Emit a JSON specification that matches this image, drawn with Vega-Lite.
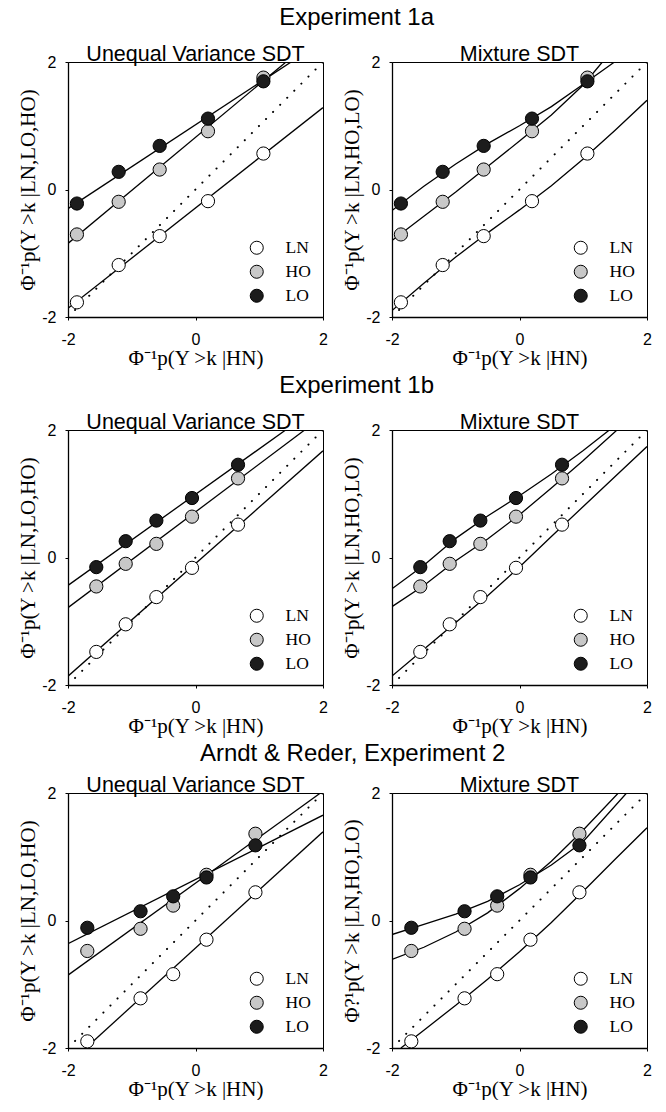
{
  "$schema": "https://vega.github.io/schema/vega-lite/v6.json",
  "padding": {"left": 17, "top": 6, "right": 0, "bottom": 0},
  "background": "white",
  "datasets": {
    "diag": [{"x": -2, "y": -2}, {"x": 2, "y": 2}],
    "points": [
      {"exp": "1a", "cond": "LN", "x": -1.86, "y": -1.77},
      {"exp": "1a", "cond": "LN", "x": -1.205, "y": -1.185},
      {"exp": "1a", "cond": "LN", "x": -0.562, "y": -0.731},
      {"exp": "1a", "cond": "LN", "x": 0.196, "y": -0.183},
      {"exp": "1a", "cond": "LN", "x": 1.065, "y": 0.564},
      {"exp": "1a", "cond": "HO", "x": -1.86, "y": -0.705},
      {"exp": "1a", "cond": "HO", "x": -1.205, "y": -0.193},
      {"exp": "1a", "cond": "HO", "x": -0.562, "y": 0.313},
      {"exp": "1a", "cond": "HO", "x": 0.196, "y": 0.914},
      {"exp": "1a", "cond": "HO", "x": 1.065, "y": 1.755},
      {"exp": "1a", "cond": "LO", "x": -1.86, "y": -0.22},
      {"exp": "1a", "cond": "LO", "x": -1.205, "y": 0.277},
      {"exp": "1a", "cond": "LO", "x": -0.562, "y": 0.684},
      {"exp": "1a", "cond": "LO", "x": 0.196, "y": 1.112},
      {"exp": "1a", "cond": "LO", "x": 1.065, "y": 1.697},
      {"exp": "1b", "cond": "LN", "x": -1.556, "y": -1.481},
      {"exp": "1b", "cond": "LN", "x": -1.095, "y": -1.048},
      {"exp": "1b", "cond": "LN", "x": -0.614, "y": -0.621},
      {"exp": "1b", "cond": "LN", "x": -0.055, "y": -0.162},
      {"exp": "1b", "cond": "LN", "x": 0.667, "y": 0.516},
      {"exp": "1b", "cond": "HO", "x": -1.556, "y": -0.454},
      {"exp": "1b", "cond": "HO", "x": -1.095, "y": -0.099},
      {"exp": "1b", "cond": "HO", "x": -0.614, "y": 0.214},
      {"exp": "1b", "cond": "HO", "x": -0.055, "y": 0.641},
      {"exp": "1b", "cond": "HO", "x": 0.667, "y": 1.241},
      {"exp": "1b", "cond": "LO", "x": -1.556, "y": -0.151},
      {"exp": "1b", "cond": "LO", "x": -1.095, "y": 0.256},
      {"exp": "1b", "cond": "LO", "x": -0.614, "y": 0.579},
      {"exp": "1b", "cond": "LO", "x": -0.055, "y": 0.933},
      {"exp": "1b", "cond": "LO", "x": 0.667, "y": 1.455},
      {"exp": "AR", "cond": "LN", "x": -1.697, "y": -1.896},
      {"exp": "AR", "cond": "LN", "x": -0.862, "y": -1.221},
      {"exp": "AR", "cond": "LN", "x": -0.35, "y": -0.842},
      {"exp": "AR", "cond": "LN", "x": 0.172, "y": -0.301},
      {"exp": "AR", "cond": "LN", "x": 0.94, "y": 0.442},
      {"exp": "AR", "cond": "HO", "x": -1.697, "y": -0.478},
      {"exp": "AR", "cond": "HO", "x": -0.862, "y": -0.13},
      {"exp": "AR", "cond": "HO", "x": -0.35, "y": 0.234},
      {"exp": "AR", "cond": "HO", "x": 0.172, "y": 0.717},
      {"exp": "AR", "cond": "HO", "x": 0.94, "y": 1.361},
      {"exp": "AR", "cond": "LO", "x": -1.697, "y": -0.114},
      {"exp": "AR", "cond": "LO", "x": -0.862, "y": 0.145},
      {"exp": "AR", "cond": "LO", "x": -0.35, "y": 0.379},
      {"exp": "AR", "cond": "LO", "x": 0.172, "y": 0.675},
      {"exp": "AR", "cond": "LO", "x": 0.94, "y": 1.179}
    ],
    "curves": [
      {"panel": "1a-UV", "cond": "LN", "x": -2, "y": -1.864},
      {"panel": "1a-UV", "cond": "LN", "x": 2, "y": 1.285},
      {"panel": "1a-UV", "cond": "HO", "x": -2, "y": -0.846},
      {"panel": "1a-UV", "cond": "HO", "x": 1.42, "y": 2},
      {"panel": "1a-UV", "cond": "LO", "x": -2, "y": -0.3},
      {"panel": "1a-UV", "cond": "LO", "x": 1.5, "y": 2},
      {"panel": "1a-MX", "cond": "LO", "x": -2, "y": -0.33},
      {"panel": "1a-MX", "cond": "LO", "x": -1.5, "y": 0.05},
      {"panel": "1a-MX", "cond": "LO", "x": -1, "y": 0.4},
      {"panel": "1a-MX", "cond": "LO", "x": -0.5, "y": 0.72},
      {"panel": "1a-MX", "cond": "LO", "x": 0, "y": 1.0},
      {"panel": "1a-MX", "cond": "LO", "x": 0.5, "y": 1.3},
      {"panel": "1a-MX", "cond": "LO", "x": 1, "y": 1.65},
      {"panel": "1a-MX", "cond": "LO", "x": 1.49, "y": 2},
      {"panel": "1a-MX", "cond": "HO", "x": -2, "y": -0.8},
      {"panel": "1a-MX", "cond": "HO", "x": -1.5, "y": -0.42},
      {"panel": "1a-MX", "cond": "HO", "x": -1, "y": -0.04},
      {"panel": "1a-MX", "cond": "HO", "x": -0.5, "y": 0.36},
      {"panel": "1a-MX", "cond": "HO", "x": 0, "y": 0.76},
      {"panel": "1a-MX", "cond": "HO", "x": 0.5, "y": 1.17},
      {"panel": "1a-MX", "cond": "HO", "x": 1, "y": 1.64},
      {"panel": "1a-MX", "cond": "HO", "x": 1.3, "y": 2},
      {"panel": "1a-MX", "cond": "LN", "x": -2, "y": -1.9},
      {"panel": "1a-MX", "cond": "LN", "x": -1.5, "y": -1.47},
      {"panel": "1a-MX", "cond": "LN", "x": -1, "y": -1.06},
      {"panel": "1a-MX", "cond": "LN", "x": -0.5, "y": -0.68},
      {"panel": "1a-MX", "cond": "LN", "x": 0, "y": -0.32},
      {"panel": "1a-MX", "cond": "LN", "x": 0.5, "y": 0.06},
      {"panel": "1a-MX", "cond": "LN", "x": 1, "y": 0.48},
      {"panel": "1a-MX", "cond": "LN", "x": 1.5, "y": 0.93},
      {"panel": "1a-MX", "cond": "LN", "x": 2, "y": 1.4},
      {"panel": "1b-UV", "cond": "LN", "x": -2, "y": -1.862},
      {"panel": "1b-UV", "cond": "LN", "x": 2, "y": 1.674},
      {"panel": "1b-UV", "cond": "HO", "x": -2, "y": -0.787},
      {"panel": "1b-UV", "cond": "HO", "x": 1.712, "y": 2},
      {"panel": "1b-UV", "cond": "LO", "x": -2, "y": -0.438},
      {"panel": "1b-UV", "cond": "LO", "x": 1.414, "y": 2},
      {"panel": "1b-MX", "cond": "LO", "x": -2, "y": -0.49},
      {"panel": "1b-MX", "cond": "LO", "x": -1.5, "y": -0.12},
      {"panel": "1b-MX", "cond": "LO", "x": -1, "y": 0.3},
      {"panel": "1b-MX", "cond": "LO", "x": -0.5, "y": 0.65},
      {"panel": "1b-MX", "cond": "LO", "x": 0, "y": 0.97},
      {"panel": "1b-MX", "cond": "LO", "x": 0.5, "y": 1.31},
      {"panel": "1b-MX", "cond": "LO", "x": 1, "y": 1.68},
      {"panel": "1b-MX", "cond": "LO", "x": 1.41, "y": 2},
      {"panel": "1b-MX", "cond": "HO", "x": -2, "y": -0.77},
      {"panel": "1b-MX", "cond": "HO", "x": -1.5, "y": -0.44},
      {"panel": "1b-MX", "cond": "HO", "x": -1, "y": -0.05},
      {"panel": "1b-MX", "cond": "HO", "x": -0.5, "y": 0.29},
      {"panel": "1b-MX", "cond": "HO", "x": 0, "y": 0.67},
      {"panel": "1b-MX", "cond": "HO", "x": 0.5, "y": 1.09},
      {"panel": "1b-MX", "cond": "HO", "x": 1, "y": 1.52},
      {"panel": "1b-MX", "cond": "HO", "x": 1.53, "y": 2},
      {"panel": "1b-MX", "cond": "LN", "x": -2, "y": -1.86},
      {"panel": "1b-MX", "cond": "LN", "x": -1.5, "y": -1.44},
      {"panel": "1b-MX", "cond": "LN", "x": -1, "y": -1.02},
      {"panel": "1b-MX", "cond": "LN", "x": -0.5, "y": -0.6},
      {"panel": "1b-MX", "cond": "LN", "x": 0, "y": -0.15},
      {"panel": "1b-MX", "cond": "LN", "x": 0.5, "y": 0.33},
      {"panel": "1b-MX", "cond": "LN", "x": 1, "y": 0.8},
      {"panel": "1b-MX", "cond": "LN", "x": 1.5, "y": 1.27},
      {"panel": "1b-MX", "cond": "LN", "x": 2, "y": 1.74},
      {"panel": "AR-UV", "cond": "LN", "x": -1.72, "y": -2},
      {"panel": "AR-UV", "cond": "LN", "x": 2, "y": 1.392},
      {"panel": "AR-UV", "cond": "HO", "x": -2, "y": -0.857},
      {"panel": "AR-UV", "cond": "HO", "x": 1.96, "y": 2},
      {"panel": "AR-UV", "cond": "LO", "x": -2, "y": -0.364},
      {"panel": "AR-UV", "cond": "LO", "x": 2, "y": 1.652},
      {"panel": "AR-MX", "cond": "LO", "x": -2, "y": -0.22},
      {"panel": "AR-MX", "cond": "LO", "x": -1.5, "y": -0.06},
      {"panel": "AR-MX", "cond": "LO", "x": -1, "y": 0.1},
      {"panel": "AR-MX", "cond": "LO", "x": -0.5, "y": 0.3},
      {"panel": "AR-MX", "cond": "LO", "x": 0, "y": 0.56},
      {"panel": "AR-MX", "cond": "LO", "x": 0.5, "y": 0.87},
      {"panel": "AR-MX", "cond": "LO", "x": 1, "y": 1.24},
      {"panel": "AR-MX", "cond": "LO", "x": 1.68, "y": 2},
      {"panel": "AR-MX", "cond": "HO", "x": -2, "y": -0.61},
      {"panel": "AR-MX", "cond": "HO", "x": -1.5, "y": -0.42},
      {"panel": "AR-MX", "cond": "HO", "x": -1, "y": -0.18},
      {"panel": "AR-MX", "cond": "HO", "x": -0.5, "y": 0.12},
      {"panel": "AR-MX", "cond": "HO", "x": 0, "y": 0.5},
      {"panel": "AR-MX", "cond": "HO", "x": 0.5, "y": 0.93},
      {"panel": "AR-MX", "cond": "HO", "x": 1, "y": 1.42},
      {"panel": "AR-MX", "cond": "HO", "x": 1.55, "y": 2},
      {"panel": "AR-MX", "cond": "LN", "x": -1.86, "y": -2},
      {"panel": "AR-MX", "cond": "LN", "x": -1.5, "y": -1.72},
      {"panel": "AR-MX", "cond": "LN", "x": -1, "y": -1.33},
      {"panel": "AR-MX", "cond": "LN", "x": -0.5, "y": -0.92},
      {"panel": "AR-MX", "cond": "LN", "x": 0, "y": -0.49},
      {"panel": "AR-MX", "cond": "LN", "x": 0.5, "y": -0.03},
      {"panel": "AR-MX", "cond": "LN", "x": 1, "y": 0.46},
      {"panel": "AR-MX", "cond": "LN", "x": 1.5, "y": 0.96},
      {"panel": "AR-MX", "cond": "LN", "x": 2, "y": 1.455}
    ]
  },
  "vconcat": [
    {
      "title": {"text": "Experiment 1a", "dx": 22, "offset": 13},
      "spacing": 13,
      "resolve": {"scale": {"fill": "independent"}, "legend": {"fill": "independent"}},
      "hconcat": [
        {
          "width": 255, "height": 255,
          "title": {"text": "Unequal Variance SDT", "frame": "group", "dy": 13, "fontSize": 21.5, "offset": 2},
          "encoding": {
            "x": {"field": "x", "type": "quantitative", "scale": {"domain": [-2, 2], "nice": false, "zero": false}, "axis": {"values": [-2, 0, 2], "labelExpr": "'' + datum.value", "title": "Φ⁻¹p(Y >k |HN)"}},
            "y": {"field": "y", "type": "quantitative", "scale": {"domain": [-2, 2], "nice": false, "zero": false}, "axis": {"values": [-2, 0, 2], "labelExpr": "'' + datum.value", "title": "Φ⁻¹p(Y >k |LN,LO,HO)"}}
          },
          "layer": [
            {"data": {"name": "diag"}, "mark": {"type": "line", "color": "black", "strokeWidth": 2, "strokeCap": "round", "strokeDash": [0.1, 9.9], "clip": true}},
            {"data": {"name": "curves"}, "transform": [{"filter": "datum.panel === '1a-UV'"}], "mark": {"type": "line", "color": "black", "strokeWidth": 1.3, "clip": true}, "encoding": {"detail": {"field": "cond"}, "order": {"field": "x"}}},
            {"data": {"name": "points"}, "transform": [{"filter": "datum.exp === '1a'"}], "mark": {"type": "circle", "size": 175, "stroke": "black", "strokeWidth": 1, "opacity": 1}, "encoding": {"fill": {"field": "cond", "type": "nominal", "scale": {"domain": ["LN", "HO", "LO"], "range": ["white", "#c8c8c8", "#1c1c1c"]}, "legend": {"orient": "none", "legendX": 180, "legendY": 177}}}}
          ]
        },
        {
          "width": 255, "height": 255,
          "title": {"text": "Mixture SDT", "frame": "group", "dy": 13, "fontSize": 21.5, "offset": 2},
          "encoding": {
            "x": {"field": "x", "type": "quantitative", "scale": {"domain": [-2, 2], "nice": false, "zero": false}, "axis": {"values": [-2, 0, 2], "labelExpr": "'' + datum.value", "title": "Φ⁻¹p(Y >k |HN)"}},
            "y": {"field": "y", "type": "quantitative", "scale": {"domain": [-2, 2], "nice": false, "zero": false}, "axis": {"values": [-2, 0, 2], "labelExpr": "'' + datum.value", "title": "Φ⁻¹p(Y >k |LN,HO,LO)"}}
          },
          "layer": [
            {"data": {"name": "diag"}, "mark": {"type": "line", "color": "black", "strokeWidth": 2, "strokeCap": "round", "strokeDash": [0.1, 9.9], "clip": true}},
            {"data": {"name": "curves"}, "transform": [{"filter": "datum.panel === '1a-MX'"}], "mark": {"type": "line", "color": "black", "strokeWidth": 1.3, "clip": true}, "encoding": {"detail": {"field": "cond"}, "order": {"field": "x"}}},
            {"data": {"name": "points"}, "transform": [{"filter": "datum.exp === '1a'"}], "mark": {"type": "circle", "size": 175, "stroke": "black", "strokeWidth": 1, "opacity": 1}, "encoding": {"fill": {"field": "cond", "type": "nominal", "scale": {"domain": ["LN", "HO", "LO"], "range": ["white", "#c8c8c8", "#1c1c1c"]}, "legend": {"orient": "none", "legendX": 180, "legendY": 177}}}}
          ]
        }
      ]
    },
    {
      "title": {"text": "Experiment 1b", "dx": 22, "offset": 13},
      "spacing": 13,
      "resolve": {"scale": {"fill": "independent"}, "legend": {"fill": "independent"}},
      "hconcat": [
        {
          "width": 255, "height": 255,
          "title": {"text": "Unequal Variance SDT", "frame": "group", "dy": 13, "fontSize": 21.5, "offset": 2},
          "encoding": {
            "x": {"field": "x", "type": "quantitative", "scale": {"domain": [-2, 2], "nice": false, "zero": false}, "axis": {"values": [-2, 0, 2], "labelExpr": "'' + datum.value", "title": "Φ⁻¹p(Y >k |HN)"}},
            "y": {"field": "y", "type": "quantitative", "scale": {"domain": [-2, 2], "nice": false, "zero": false}, "axis": {"values": [-2, 0, 2], "labelExpr": "'' + datum.value", "title": "Φ⁻¹p(Y >k |LN,LO,HO)"}}
          },
          "layer": [
            {"data": {"name": "diag"}, "mark": {"type": "line", "color": "black", "strokeWidth": 2, "strokeCap": "round", "strokeDash": [0.1, 9.9], "clip": true}},
            {"data": {"name": "curves"}, "transform": [{"filter": "datum.panel === '1b-UV'"}], "mark": {"type": "line", "color": "black", "strokeWidth": 1.3, "clip": true}, "encoding": {"detail": {"field": "cond"}, "order": {"field": "x"}}},
            {"data": {"name": "points"}, "transform": [{"filter": "datum.exp === '1b'"}], "mark": {"type": "circle", "size": 175, "stroke": "black", "strokeWidth": 1, "opacity": 1}, "encoding": {"fill": {"field": "cond", "type": "nominal", "scale": {"domain": ["LN", "HO", "LO"], "range": ["white", "#c8c8c8", "#1c1c1c"]}, "legend": {"orient": "none", "legendX": 180, "legendY": 177}}}}
          ]
        },
        {
          "width": 255, "height": 255,
          "title": {"text": "Mixture SDT", "frame": "group", "dy": 13, "fontSize": 21.5, "offset": 2},
          "encoding": {
            "x": {"field": "x", "type": "quantitative", "scale": {"domain": [-2, 2], "nice": false, "zero": false}, "axis": {"values": [-2, 0, 2], "labelExpr": "'' + datum.value", "title": "Φ⁻¹p(Y >k |HN)"}},
            "y": {"field": "y", "type": "quantitative", "scale": {"domain": [-2, 2], "nice": false, "zero": false}, "axis": {"values": [-2, 0, 2], "labelExpr": "'' + datum.value", "title": "Φ⁻¹p(Y >k |LN,HO,LO)"}}
          },
          "layer": [
            {"data": {"name": "diag"}, "mark": {"type": "line", "color": "black", "strokeWidth": 2, "strokeCap": "round", "strokeDash": [0.1, 9.9], "clip": true}},
            {"data": {"name": "curves"}, "transform": [{"filter": "datum.panel === '1b-MX'"}], "mark": {"type": "line", "color": "black", "strokeWidth": 1.3, "clip": true}, "encoding": {"detail": {"field": "cond"}, "order": {"field": "x"}}},
            {"data": {"name": "points"}, "transform": [{"filter": "datum.exp === '1b'"}], "mark": {"type": "circle", "size": 175, "stroke": "black", "strokeWidth": 1, "opacity": 1}, "encoding": {"fill": {"field": "cond", "type": "nominal", "scale": {"domain": ["LN", "HO", "LO"], "range": ["white", "#c8c8c8", "#1c1c1c"]}, "legend": {"orient": "none", "legendX": 180, "legendY": 177}}}}
          ]
        }
      ]
    },
    {
      "title": {"text": "Arndt & Reder, Experiment 2", "dx": 18, "dy": 8, "offset": 16},
      "spacing": 13,
      "resolve": {"scale": {"fill": "independent"}, "legend": {"fill": "independent"}},
      "hconcat": [
        {
          "width": 255, "height": 255,
          "title": {"text": "Unequal Variance SDT", "frame": "group", "dy": 13, "fontSize": 21.5, "offset": 2},
          "encoding": {
            "x": {"field": "x", "type": "quantitative", "scale": {"domain": [-2, 2], "nice": false, "zero": false}, "axis": {"values": [-2, 0, 2], "labelExpr": "'' + datum.value", "title": "Φ⁻¹p(Y >k |HN)"}},
            "y": {"field": "y", "type": "quantitative", "scale": {"domain": [-2, 2], "nice": false, "zero": false}, "axis": {"values": [-2, 0, 2], "labelExpr": "'' + datum.value", "title": "Φ⁻¹p(Y >k |LN,LO,HO)"}}
          },
          "layer": [
            {"data": {"name": "diag"}, "mark": {"type": "line", "color": "black", "strokeWidth": 2, "strokeCap": "round", "strokeDash": [0.1, 9.9], "clip": true}},
            {"data": {"name": "curves"}, "transform": [{"filter": "datum.panel === 'AR-UV'"}], "mark": {"type": "line", "color": "black", "strokeWidth": 1.3, "clip": true}, "encoding": {"detail": {"field": "cond"}, "order": {"field": "x"}}},
            {"data": {"name": "points"}, "transform": [{"filter": "datum.exp === 'AR'"}], "mark": {"type": "circle", "size": 175, "stroke": "black", "strokeWidth": 1, "opacity": 1}, "encoding": {"fill": {"field": "cond", "type": "nominal", "scale": {"domain": ["LN", "HO", "LO"], "range": ["white", "#c8c8c8", "#1c1c1c"]}, "legend": {"orient": "none", "legendX": 180, "legendY": 177}}}}
          ]
        },
        {
          "width": 255, "height": 255,
          "title": {"text": "Mixture SDT", "frame": "group", "dy": 13, "fontSize": 21.5, "offset": 2},
          "encoding": {
            "x": {"field": "x", "type": "quantitative", "scale": {"domain": [-2, 2], "nice": false, "zero": false}, "axis": {"values": [-2, 0, 2], "labelExpr": "'' + datum.value", "title": "Φ⁻¹p(Y >k |HN)"}},
            "y": {"field": "y", "type": "quantitative", "scale": {"domain": [-2, 2], "nice": false, "zero": false}, "axis": {"values": [-2, 0, 2], "labelExpr": "'' + datum.value", "title": "Φ?¹p(Y >k |LN,HO,LO)"}}
          },
          "layer": [
            {"data": {"name": "diag"}, "mark": {"type": "line", "color": "black", "strokeWidth": 2, "strokeCap": "round", "strokeDash": [0.1, 9.9], "clip": true}},
            {"data": {"name": "curves"}, "transform": [{"filter": "datum.panel === 'AR-MX'"}], "mark": {"type": "line", "color": "black", "strokeWidth": 1.3, "clip": true}, "encoding": {"detail": {"field": "cond"}, "order": {"field": "x"}}},
            {"data": {"name": "points"}, "transform": [{"filter": "datum.exp === 'AR'"}], "mark": {"type": "circle", "size": 175, "stroke": "black", "strokeWidth": 1, "opacity": 1}, "encoding": {"fill": {"field": "cond", "type": "nominal", "scale": {"domain": ["LN", "HO", "LO"], "range": ["white", "#c8c8c8", "#1c1c1c"]}, "legend": {"orient": "none", "legendX": 180, "legendY": 177}}}}
          ]
        }
      ]
    }
  ],
  "spacing": 5,
  "resolve": {"scale": {"fill": "independent"}, "legend": {"fill": "independent"}},
  "config": {
    "view": {"stroke": "black", "strokeWidth": 1},
    "axis": {
      "domainColor": "black", "domainWidth": 1.3, "tickColor": "black", "tickSize": 3, "tickWidth": 1,
      "grid": false, "labelFont": "Liberation Sans", "labelFontSize": 16, "labelColor": "black", "labelFlush": false,
      "titleFont": "Liberation Serif", "titleFontSize": 21, "titleFontWeight": "normal", "titleColor": "black"
    },
    "axisX": {"labelPadding": 11, "titlePadding": 0},
    "axisY": {"labelPadding": 9, "titlePadding": 3},
    "title": {"font": "Liberation Sans", "fontSize": 24, "fontWeight": "normal", "color": "black", "offset": 2, "anchor": "middle", "frame": "bounds"},
    "legend": {
      "title": null, "symbolType": "circle", "symbolSize": 170, "symbolStrokeColor": "black", "symbolStrokeWidth": 1, "symbolOpacity": 1,
      "labelFont": "Liberation Serif", "labelFontSize": 17.5, "labelColor": "black", "labelOffset": 20, "rowPadding": 5, "padding": 0
    }
  }
}
